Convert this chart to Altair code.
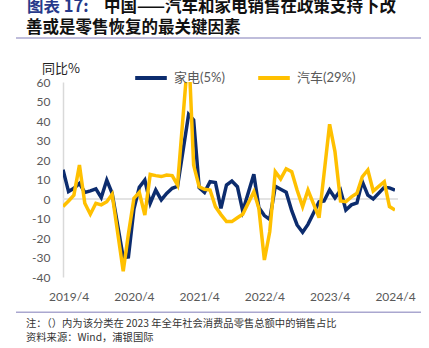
import altair as alt
import pandas as pd

# Monthly data (January is reported together with February, so it is absent)
months = [
    "2019-03", "2019-04", "2019-05", "2019-06", "2019-07", "2019-08", "2019-09", "2019-10", "2019-11", "2019-12",
    "2020-02", "2020-03", "2020-04", "2020-05", "2020-06", "2020-07", "2020-08", "2020-09", "2020-10", "2020-11", "2020-12",
    "2021-02", "2021-03", "2021-04", "2021-05", "2021-06", "2021-07", "2021-08", "2021-09", "2021-10", "2021-11", "2021-12",
    "2022-02", "2022-03", "2022-04", "2022-05", "2022-06", "2022-07", "2022-08", "2022-09", "2022-10", "2022-11", "2022-12",
    "2023-02", "2023-03", "2023-04", "2023-05", "2023-06", "2023-07", "2023-08", "2023-09", "2023-10", "2023-11", "2023-12",
    "2024-02", "2024-03", "2024-04",
]
appliance = [
    15.0, 3.8, 5.5, 8.0, 3.4, 4.2, 5.2, 0.7, 9.7, 2.9,
    -30.0, -29.7, -5.0, 6.0, 9.7, -2.2, 4.6, -0.5, 2.9, 5.5, 6.5,
    43.4, 40.5, 5.8, 3.4, 8.9, 8.4, -4.8, 7.2, 9.2, 6.3, -6.2,
    12.7, -4.4, -8.5, -10.5, 6.5, 5.0, 3.5, -6.0, -13.3, -17.1, -13.0,
    -1.5, -1.0, 4.6, 0.5, 4.5, -5.6, -3.0, -2.0, 8.9, 2.0, 0.0,
    6.0, 5.7, 4.6,
]
autos = [
    -3.9, -1.0, 2.0, 17.4, -2.2, -7.8, -2.2, -3.0, -1.4, 2.4,
    -37.0, -18.0, 0.4, 3.4, -8.2, 12.6, 12.0, 11.5, 12.3, 12.0, 7.2,
    77.6, 17.4, 6.3, 5.0, 4.6, -3.9, -8.0, -11.6, -11.6, -9.6, -7.8,
    3.7, -4.8, -31.3, -16.8, 14.0, 10.3, 15.5, 14.0, 4.6, -3.9, 4.6,
    -9.6, 13.0, 38.3, 24.3, -1.0, -1.4, 1.1, 2.9, 11.4, 14.9, 4.1,
    8.9, -3.9, -5.6,
]
series_names = ["家电(5%)", "汽车(29%)"]
series_colors = ["#0c2c6e", "#ffc000"]
x_tick_years = [2019, 2020, 2021, 2022, 2023, 2024]
y_ticks = [-40, -30, -20, -10, 0, 10, 20, 30, 40, 50, 60]

title_prefix = "图表 17:"
title_line1 = "中国——汽车和家电销售在政策支持下改"
title_line2 = "善或是零售恢复的最关键因素"
y_unit = "同比%"
note_line1 = "注：（）内为该分类在 2023 年全年社会消费品零售总额中的销售占比"
note_line2 = "资料来源：Wind，浦银国际"

rows = []
for name, vals in zip(series_names, [appliance, autos]):
    for m, v in zip(months, vals):
        rows.append({"date": m + "-01", "series": name, "value": v})
df = pd.DataFrame(rows)

W, H = 332, 195
x_scale = alt.Scale(
    type="utc",
    domain=[alt.DateTime(year=2019, month=3, date=1, utc=True),
            alt.DateTime(year=2024, month=4, date=1, utc=True)],
)
y_scale = alt.Scale(domain=[-40, 60], nice=False, zero=False)
y_axis = alt.Axis(
    values=y_ticks, labelExpr="'' + datum.value",
    domain=True, domainColor="#d9d9d9", domainWidth=1.5,
    ticks=False, grid=False, title=None, labelOverlap=False, labelFlush=False,
    labelFont="Lato", labelFontSize=12, labelColor="#595959", labelPadding=13,
)

lines = alt.Chart(df).mark_line(strokeWidth=3.5, clip=True).encode(
    x=alt.X(
        "date:T",
        scale=x_scale,
        axis=alt.Axis(
            values=[alt.DateTime(year=yv, month=4, date=1, utc=True) for yv in x_tick_years],
            labelExpr="utcyear(datum.value) + '/' + (utcmonth(datum.value) + 1)",
            domain=False, ticks=False, grid=False, title=None,
            labelFont="Lato", labelFontSize=12, labelColor="#595959", labelPadding=14,
            labelFlush=False, labelOverlap=False,
        ),
    ),
    y=alt.Y("value:Q", scale=y_scale, axis=y_axis),
    color=alt.Color(
        "series:N",
        scale=alt.Scale(domain=series_names, range=series_colors),
        legend=alt.Legend(
            orient="none", legendX=70, legendY=-22, direction="horizontal", title=None,
            symbolType="stroke", symbolStrokeWidth=4, symbolSize=1000,
            labelFont="Lato, Noto Sans CJK SC", labelFontSize=13, labelColor="#595959",
            columnPadding=25, labelOffset=5,
        ),
    ),
    order=alt.Order("date:T"),
)

zero = alt.Chart(pd.DataFrame({"value": [0]})).mark_rule(color="#e3e3e3", strokeWidth=2).encode(
    y=alt.Y("value:Q", scale=y_scale, axis=y_axis), x=alt.value(0), x2=alt.value(W + 3)
)


def text(t, x, y, size, color, weight="normal", font="Noto Sans CJK SC"):
    return alt.Chart(pd.DataFrame({"t": [t]})).mark_text(
        align="left", baseline="alphabetic", fontSize=size, color=color,
        fontWeight=weight, font=font,
    ).encode(text="t:N", x=alt.value(x), y=alt.value(y))


def hrule(y):
    return alt.Chart(pd.DataFrame({"k": [0]})).mark_rule(color="#aaa7cf", strokeWidth=1.6).encode(
        x=alt.value(-47), x2=alt.value(358), y=alt.value(y)
    )


chart = alt.layer(
    zero,
    lines,
    text(title_prefix, -36, -70, 16.5, "#27398a", "bold"),
    text(title_line1, 41, -70, 16.5, "#111111", "bold"),
    text(title_line2, -37, -49, 16.5, "#111111", "bold"),
    hrule(-44),
    hrule(230.3),
    text(y_unit, -21, -9, 13, "#222222"),
    text(note_line1, -37, 245, 10.3, "#333333"),
    text(note_line2, -37, 258.5, 10.3, "#333333"),
).properties(
    width=W, height=H,
    autosize=alt.AutoSizeParams(type="none"),
    padding={"left": 63, "top": 82, "right": 34, "bottom": 71},
).configure_view(stroke=None)

chart.save("out.html", embed_options={"renderer": "svg", "actions": False})
